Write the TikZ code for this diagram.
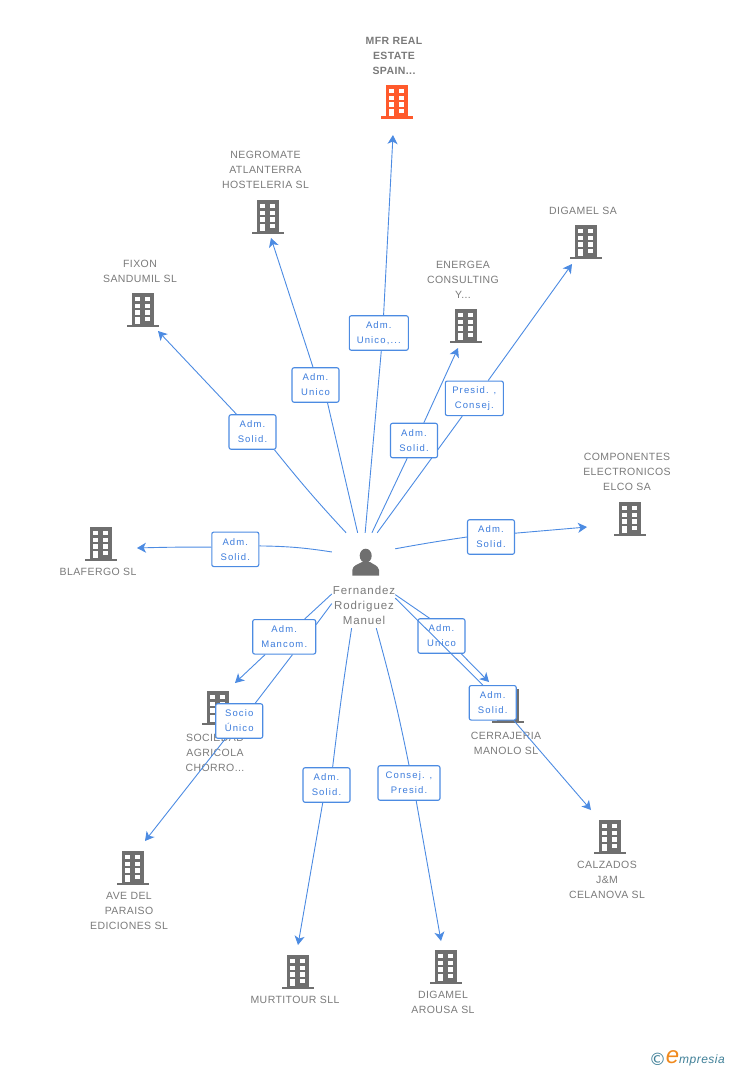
\documentclass[tikz,border=0pt]{standalone}
\usepackage{fontspec}
\setmainfont[LetterSpace=4]{Liberation Sans}
\newfontfamily\rolefamily[LetterSpace=12]{Liberation Sans}
\newfontfamily\personfamily[LetterSpace=8]{Liberation Sans}
\newfontfamily\dejavufont{DejaVu Sans}
\usepackage{xcolor}
\usetikzlibrary{arrows.meta, backgrounds}

\definecolor{icongray}{HTML}{6F6F6F}
\definecolor{iconorange}{HTML}{FF5A2C}
\definecolor{textgray}{HTML}{7A7A7A}
\definecolor{linkblue}{HTML}{4C8BE2}
\definecolor{rolefont}{HTML}{3C7CDC}
\definecolor{logoteal}{HTML}{3F7F97}
\definecolor{logoorange}{HTML}{F08A1E}

\tikzset{
pics/bldg/.style={code={
\fill[#1] (-11,16) rectangle (11.3,-15.7);
\fill[#1] (-16,-15.5) rectangle (16,-18);
\fill[white] (-7.7,12) rectangle (-2.7,8);
\fill[white] (2.3,12) rectangle (7,8);
\fill[white] (-7.7,5.3) rectangle (-2.7,1);
\fill[white] (2.3,5.3) rectangle (7,1);
\fill[white] (-7.7,-1.3) rectangle (-2.7,-5.7);
\fill[white] (2.3,-1.3) rectangle (7,-5.7);
\fill[white] (-7.7,-8) rectangle (-2.7,-14.7);
\fill[white] (2.3,-8) rectangle (7,-12);
}}
}

\begin{document}
\begin{tikzpicture}[
x=1pt, y=1pt,
company/.style={align=center, inner sep=0pt, text=textgray, font=\fontsize{10.5}{15}\selectfont},
target/.style={company, font=\fontsize{10.5}{15}\selectfont\bfseries},
role/.style={draw=linkblue, line width=1.1pt, rounded corners=2pt, fill=white,
minimum width=47pt, minimum height=34.5pt, inner sep=0pt, align=center,
text=rolefont, font=\rolefamily\fontsize{9.5}{15}\selectfont},
personbox/.style={minimum width=63pt, minimum height=95pt, inner sep=0pt},
link/.style={draw=linkblue, line width=0.9pt},
arrow/.style={link, -{Stealth[length=9pt,width=10pt,inset=2.5pt]}}
]
\useasboundingbox (0,0) rectangle (728,-1070);

% buildings
\pic at (397,-101) {bldg=iconorange};
\pic at (268,-216) {bldg=icongray};
\pic at (143,-309) {bldg=icongray};
\pic at (586,-241) {bldg=icongray};
\pic at (466,-325) {bldg=icongray};
\pic at (630,-518) {bldg=icongray};
\pic at (101,-543) {bldg=icongray};
\pic at (218,-707) {bldg=icongray};
\pic at (508,-705) {bldg=icongray};
\pic at (610,-836) {bldg=icongray};
\pic at (133,-867) {bldg=icongray};
\pic at (298,-971) {bldg=icongray};
\pic at (446,-966) {bldg=icongray};

% company names
\node[target] (nameMfr) at (394,-56) {MFR REAL\\ESTATE\\SPAIN...};
\node[company] (nameNegromate) at (265.5,-170) {NEGROMATE\\ATLANTERRA\\HOSTELERIA SL};
\node[company] (nameFixon) at (140,-271) {FIXON\\SANDUMIL SL};
\node[company] (nameDigamel) at (583,-211) {DIGAMEL SA};
\node[company] (nameEnergea) at (463,-280) {ENERGEA\\CONSULTING\\Y...};
\node[company] (nameElco) at (627,-472) {COMPONENTES\\ELECTRONICOS\\ELCO SA};
\node[company] (nameBlafergo) at (98,-572) {BLAFERGO SL};
\node[company] (nameSociedad) at (215,-753) {SOCIEDAD\\AGRICOLA\\CHORRO...};
\node[company] (nameCerrajeria) at (506,-743.5) {CERRAJERIA\\MANOLO SL};
\node[company] (nameCalzados) at (607,-880) {CALZADOS\\J\&M\\CELANOVA SL};
\node[company] (nameAve) at (129,-911) {AVE DEL\\PARAISO\\EDICIONES SL};
\node[company] (nameMurtitour) at (295,-1000) {MURTITOUR SLL};
\node[company] (nameArousa) at (443,-1002.5) {DIGAMEL\\AROUSA SL};

% person
\node[personbox] (person) at (363.5,-580.5) {};
\fill[icongray] (365.7,-555.7) ellipse (6 and 7);
\fill[icongray] (352.3,-575.7) -- (352.3,-570) .. controls (353,-565) and (358,-564.5) .. (362,-562) -- (370,-562) .. controls (373,-564.5) and (378,-565) .. (379,-570) -- (379,-575.7) -- cycle;
\node[company, font=\personfamily\fontsize{11.5}{15}\selectfont] (namePerson) at (364,-605) {Fernandez\\Rodriguez\\Manuel};

% roles
\node[role, minimum width=59pt] (roleMfr) at (378.8,-333) {Adm.\\Unico,...};
\node[role] (roleNegromate) at (315.5,-385) {Adm.\\Unico};
\node[role] (roleFixon) at (252.5,-432) {Adm.\\Solid.};
\node[role, minimum width=58pt] (roleDigamel) at (474.3,-398.3) {Presid. ,\\Consej.};
\node[role] (roleEnergea) at (414,-440.5) {Adm.\\Solid.};
\node[role] (roleElco) at (491,-537) {Adm.\\Solid.};
\node[role] (roleBlafergo) at (235.3,-549.3) {Adm.\\Solid.};
\node[role, minimum width=63pt] (roleSociedad) at (284.2,-636.8) {Adm.\\Mancom.};
\node[role] (roleCerrajeria) at (441.5,-636) {Adm.\\Unico};
\node[role] (roleAve) at (239.2,-721) {Socio\\Único};
\node[role] (roleCalzados) at (492.7,-702.8) {Adm.\\Solid.};
\node[role] (roleMurtitour) at (326.5,-785) {Adm.\\Solid.};
\node[role, minimum width=62pt] (roleArousa) at (409,-783) {Consej. ,\\Presid.};

% arrow ends
\coordinate (tipMfr) at (393,-135);
\coordinate (tipNegromate) at (271,-238);
\coordinate (tipFixon) at (158,-331);
\coordinate (tipDigamel) at (572,-264);
\coordinate (tipEnergea) at (458,-348);
\coordinate (tipElco) at (587,-527);
\coordinate (tipBlafergo) at (137,-548);
\coordinate (tipSociedad) at (235,-683);
\coordinate (tipCerrajeria) at (489,-682);
\coordinate (tipCalzados) at (591,-810);
\coordinate (tipAve) at (145,-841);
\coordinate (tipMurtitour) at (298,-945);
\coordinate (tipArousa) at (441,-941);

% connectors
\draw[link] (person.88) -- (roleMfr.278);
\draw[arrow] (roleMfr.75.6) -- (tipMfr);
\draw[link] (person.97) -- (roleNegromate.304);
\draw[arrow] (roleNegromate.98) -- (tipNegromate);
\draw[link] (person.110.5) to[bend left=2] (roleFixon.321.7);
\draw[arrow] (roleFixon.132.4) -- (tipFixon);
\begin{scope}[on background layer]
\draw[link] (person.74) -- (roleDigamel.236.3);
\end{scope}
\draw[arrow] (roleDigamel.52.2) -- (tipDigamel);
\draw[link] (person.80.2) -- (roleEnergea.249.9);
\draw[arrow] (roleEnergea.61.6) -- (tipEnergea);
\draw[link] (person.45) to[bend left=1] (roleElco.180);
\draw[arrow] (roleElco.9) -- (tipElco);
\draw[link] (person.138.3) to[bend right=4] (roleBlafergo.8.7);
\draw[arrow] (roleBlafergo.175) to[bend right=1] (tipBlafergo);
\draw[link] (person.203.2) -- (roleSociedad.41.5);
\draw[arrow] (roleSociedad.223.4) -- (tipSociedad);
\draw[link] (person.216.7) -- (roleSociedad.21.6);
\draw[link] (roleSociedad.295.9) -- (roleAve.48.4);
\draw[arrow] (roleAve.232.5) -- (tipAve);
\draw[link] (person.336.8) -- (roleCerrajeria.124);
\draw[arrow] (roleCerrajeria.318.6) -- (tipCerrajeria);
\draw[link] (person.331) -- (roleCalzados.119);
\draw[arrow] (roleCalzados.320.5) -- (tipCalzados);
\draw[link] (person.256.7) to[bend right=1] (roleMurtitour.71.5);
\draw[arrow] (roleMurtitour.258) -- (tipMurtitour);
\draw[link] (person.285.1) to[bend left=2] (roleArousa.90);
\draw[arrow] (roleArousa.292.4) -- (tipArousa);

% logo
\node[inner sep=0pt, text=logoteal, font=\dejavufont\fontsize{17}{17}\selectfont] (logoMark) at (657.5,-1059) {©};
\node[inner sep=0pt, text=logoorange, font=\fontsize{24}{24}\selectfont\itshape] (logoE) at (672.5,-1057) {e};
\node[inner sep=0pt, text=logoteal, anchor=west, font=\fontsize{12}{12}\selectfont\itshape] (logoName) at (679,-1060) {mpresia};
\end{tikzpicture}
\end{document}
